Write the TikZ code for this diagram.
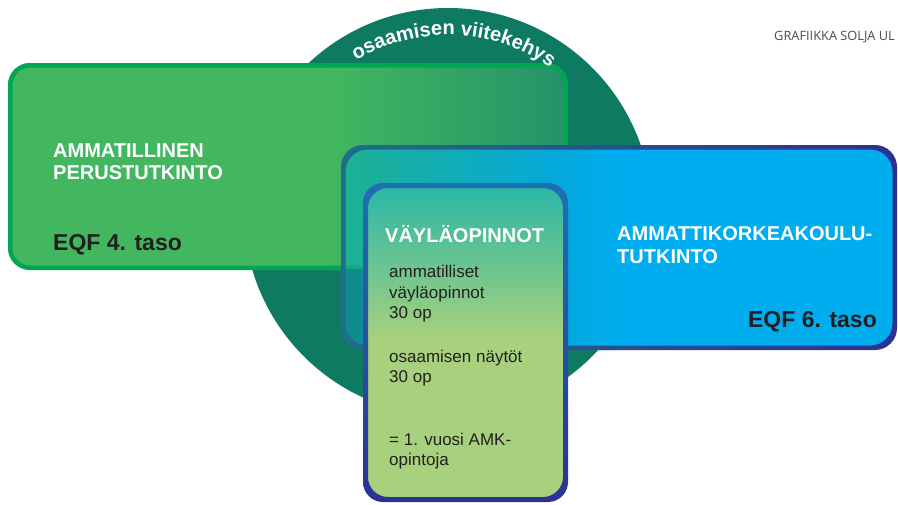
\documentclass[tikz,border=0pt]{standalone}
\usepackage{fontspec}
\setmainfont{Liberation Sans}
\newfontfamily\grafont{Open Sans}
\usetikzlibrary{decorations.text}
\definecolor{circ}{RGB}{15,122,98}
\definecolor{gfill}{RGB}{66,183,96}
\definecolor{gdark}{RGB}{36,146,106}
\definecolor{gborder}{RGB}{0,166,81}
\definecolor{bfill}{RGB}{0,174,239}
\definecolor{navy}{RGB}{46,49,146}
\definecolor{bA}{RGB}{30,177,147}
\definecolor{bB}{RGB}{16,138,138}
\definecolor{bbord}{RGB}{30,110,138}
\definecolor{gline}{RGB}{22,168,128}
\definecolor{mtop}{RGB}{40,182,168}
\definecolor{mmid}{RGB}{104,190,156}
\definecolor{mbot}{RGB}{168,209,125}
\definecolor{mbord}{RGB}{30,112,178}
\definecolor{txtdark}{RGB}{35,31,32}
\colorlet{bmid}{bfill!83!bB}
\tikzset{
  boxtitle/.style={anchor=base west, inner sep=0pt, text=white, font=\bfseries\fontsize{20}{24}\selectfont},
  eqf/.style={inner sep=0pt, text=txtdark, font=\bfseries\fontsize{23}{27}\selectfont},
  body/.style={anchor=base west, inner sep=0pt, text=txtdark, font=\fontsize{17}{20}\selectfont},
}
\begin{document}
\begin{tikzpicture}[x=1pt,y=-1pt]
\useasboundingbox (0,0) rectangle (898,504);
\clip (0,0) rectangle (898,504);

% circle
\coordinate (c) at (448,212);
\fill[circ] (c) circle[radius=204pt];

% green box
\begin{scope}
  \clip[rounded corners=22pt] (8,63) rectangle (568,270);
  \fill[gfill] (8,63) rectangle (568,270);
  \shade[left color=gfill, right color=gdark] (330,63) rectangle (568,270);
\end{scope}
\draw[gborder, line width=4.5pt, rounded corners=20pt] (10.25,65.25) rectangle (565.75,267.75);

% curved title on the circle
\path[decorate, decoration={text along path, text align=center,
  text={|\bfseries\fontsize{20}{24}\selectfont\color{white}|osaamisen viitekehys}}]
  (c) ++(148:177pt) arc[start angle=148, end angle=28, radius=177pt];

\node[boxtitle] (g1) at (53,157) {AMMATILLINEN};
\node[boxtitle] (g2) at (53,179) {PERUSTUTKINTO};
\node[eqf, anchor=base west] (g3) at (53,250) {EQF 4. taso};

% blue box
\begin{scope}
  \clip[rounded corners=24pt] (341,145) rectangle (897,350);
  \shade[left color=bB, right color=bfill] (341,145) rectangle (615,350);
  \fill[bfill] (615,145) rectangle (897,350);
  \shade[left color=bA, right color=bmid] (341,145) rectangle (568,268);
  \fill[gline] (341,264.5) rectangle (568,268.5);
\end{scope}
\shade[even odd rule, rounded corners=22pt, left color=bbord, middle color=navy, right color=navy]
  (341,145) rectangle (897,350) (345.5,149.5) rectangle (892.5,345.5);

\node[boxtitle] (b1) at (617,240) {AMMATTIKORKEAKOULU-};
\node[boxtitle] (b2) at (617,263) {TUTKINTO};
\node[eqf, anchor=base east] (b3) at (877,327) {EQF 6. taso};

% middle box
\begin{scope}
  \clip[rounded corners=22pt] (363,183) rectangle (568,502);
  \shade[top color=mtop, middle color=mmid, bottom color=mbot] (363,183) rectangle (568,340);
  \fill[mbot] (363,340) rectangle (568,502);
\end{scope}
\shade[even odd rule, rounded corners=20pt, top color=mbord, middle color=navy, bottom color=navy]
  (363,183) rectangle (568,502) (368,188) rectangle (563,497);

\node[boxtitle] (m0) at (385,242) {VÄYLÄOPINNOT};
\node[body] (m1) at (389,277) {ammatilliset};
\node[body] (m2) at (389,298) {väyläopinnot};
\node[body] (m3) at (389,318) {30 op};
\node[body] (m4) at (389,362) {osaamisen näytöt};
\node[body] (m5) at (389,382) {30 op};
\node[body] (m6) at (389,445) {= 1. vuosi AMK-};
\node[body] (m7) at (389,465) {opintoja};

% credit
\node[anchor=base west, inner sep=0pt, text=black!70, font=\grafont\fontsize{12.8}{15}\selectfont] (credit) at (774,40) {GRAFIIKKA SOLJA UL};
\end{tikzpicture}
\end{document}
